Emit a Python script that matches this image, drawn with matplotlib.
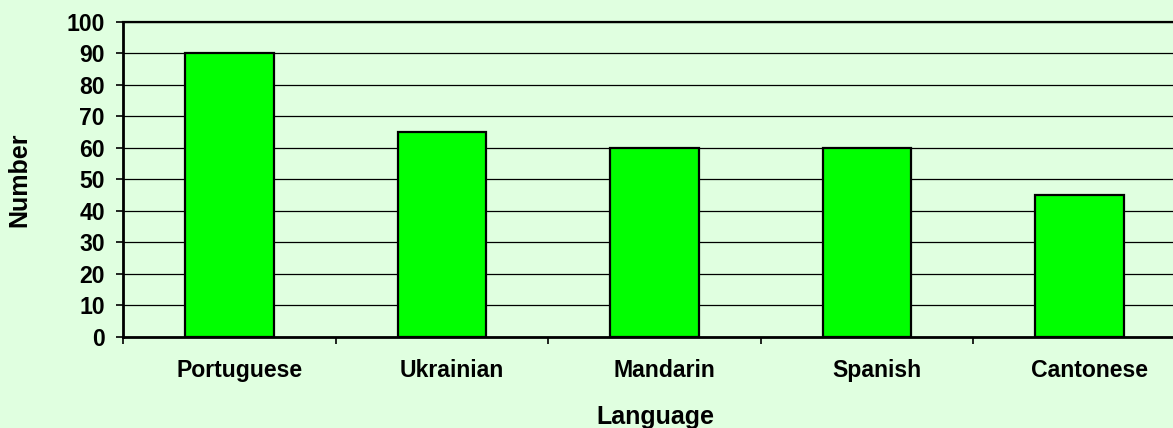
import matplotlib
matplotlib.use("Agg")
import matplotlib.pyplot as plt
import matplotlib.transforms as mtransforms
import numpy as np

categories = ["Portuguese", "Ukrainian", "Mandarin", "Spanish", "Cantonese"]
values = [90, 65, 60, 60, 45]
yticks = [0, 10, 20, 30, 40, 50, 60, 70, 80, 90, 100]

plt.rcParams['font.family'] = ['Liberation Sans', 'DejaVu Sans']
plt.rcParams['font.weight'] = 'bold'

bg = '#e0ffe0'
fig = plt.figure(figsize=(11.73, 4.28), dpi=100, facecolor=bg)
ax = fig.add_axes([123/1173, 1-336.7/428, (1186-123)/1173, (336.7-22)/428])
ax.set_facecolor(bg)

x = np.arange(len(categories))
ax.set_axisbelow(True)
ax.yaxis.grid(True, color='black', linewidth=0.9)
ax.bar(x, values, width=0.417, color='#00ff00', edgecolor='black', linewidth=1.6, zorder=3)

ax.set_xlim(-0.5, len(categories) - 0.5)
ax.set_ylim(0, 100)
ax.set_yticks(yticks)
ax.set_yticklabels([str(v) for v in yticks], fontsize=16.6, fontweight='bold')

ax.set_xticks(np.arange(len(categories) + 1) - 0.5)
ax.set_xticklabels([])
ax.set_xticks(x, minor=True)
ax.set_xticklabels(categories, minor=True, fontsize=16.6, fontweight='bold')
ax.tick_params(axis='x', which='major', length=5, width=1.2, direction='out')
ax.tick_params(axis='x', which='minor', length=0, pad=16)
ax.tick_params(axis='y', length=5, width=1.2, pad=8)

shift = mtransforms.ScaledTranslation(10/100, 0, fig.dpi_scale_trans)
for lbl in ax.get_xticklabels(minor=True):
    lbl.set_transform(lbl.get_transform() + shift)

for s in ['left', 'bottom']:
    ax.spines[s].set_linewidth(2)
ax.spines['top'].set_linewidth(1.6)
ax.spines['right'].set_visible(False)

fig.text(19.5/1173, 1-180/428, "Number", rotation=90, ha='center', va='center',
         fontsize=18, fontweight='bold')
fig.text(655.5/1173, 1-416.7/428, "Language", ha='center', va='center',
         fontsize=18, fontweight='bold')

fig.savefig("out.png", dpi=100, facecolor=bg)
